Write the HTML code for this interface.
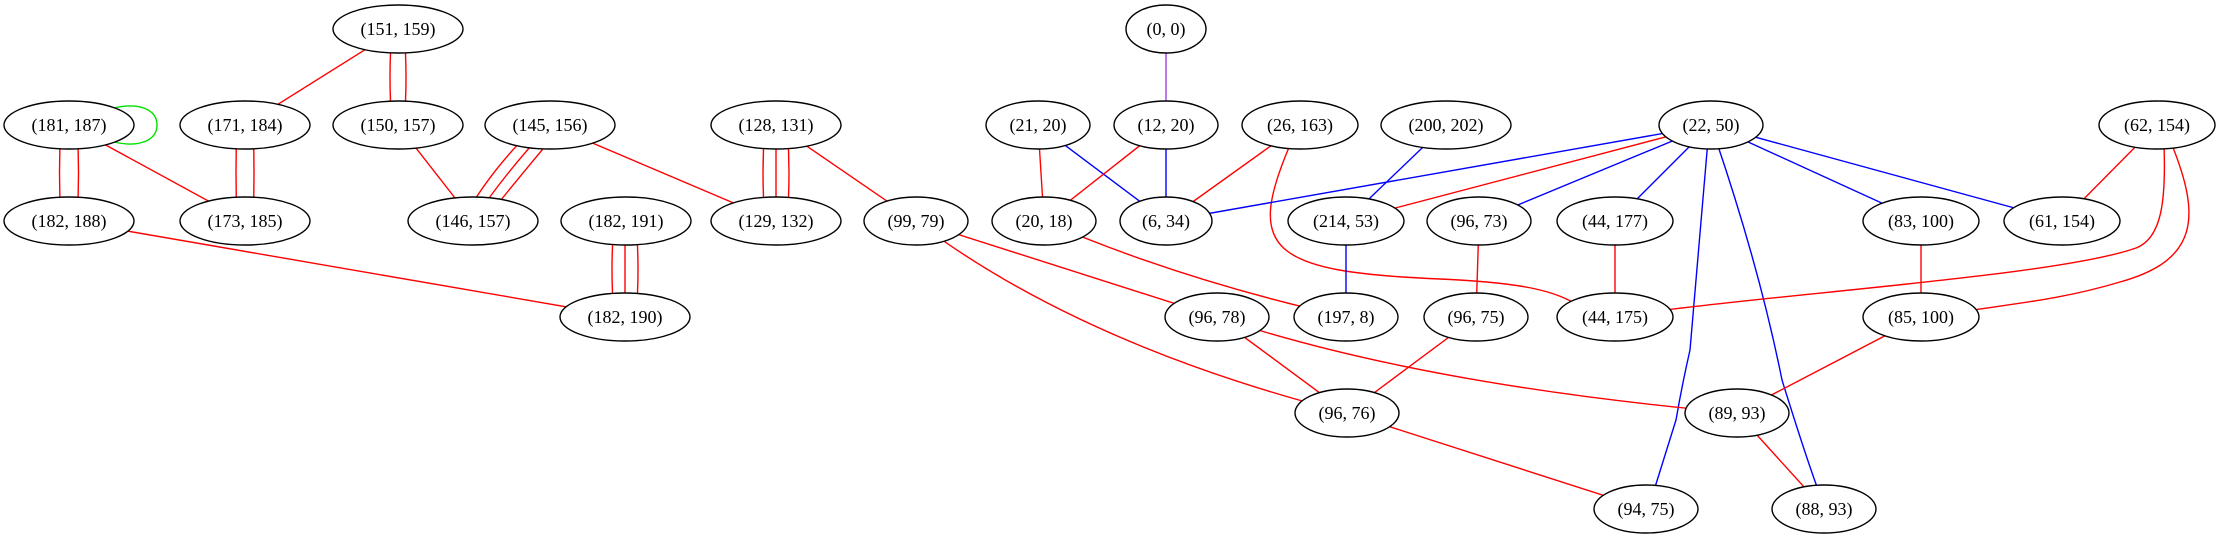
<!DOCTYPE html>
<html><head><meta charset="utf-8"><style>
html,body{margin:0;padding:0;background:#fff;}
svg{display:block;}
text{font-family:"Liberation Serif",serif;font-size:18px;text-anchor:middle;dominant-baseline:central;fill:#000;}
.e{fill:#fff;stroke:#000;stroke-width:1.4;}
path,line{fill:none;stroke-width:1.4;}
.r{stroke:#ff0000;}.b{stroke:#0000ff;}
</style></head><body>
<svg width="2221" height="539" viewBox="0 0 2221 539" xmlns="http://www.w3.org/2000/svg">
<!-- edges -->
<g>
<line class="r" x1="398" y1="29" x2="245" y2="125"/>
<path class="r" d="M392,29 Q388,77 392,125"/><path class="r" d="M404,29 Q408,77 404,125"/>
<path d="M114,108 C140,102 157,110 157,125 C157,140 140,148 114,142" stroke="#00e000"/>
<path class="r" d="M61,125 Q58,173 61,221"/><path class="r" d="M77,125 Q80,173 77,221"/>
<line class="r" x1="69" y1="125" x2="245" y2="221"/>
<path class="r" d="M237,125 Q235,173 237,221"/><path class="r" d="M253,125 Q255,173 253,221"/>
<line class="r" x1="398" y1="125" x2="473" y2="221"/>
<path class="r" d="M537,125 Q490,170 462,221"/><path class="r" d="M550,125 Q505,173 473,221"/><path class="r" d="M563,125 Q520,176 484,221"/>
<line class="r" x1="550" y1="125" x2="776" y2="221"/>
<line class="r" x1="69" y1="221" x2="625" y2="317"/>
<path class="r" d="M614,221 Q610,269 614,317"/><line class="r" x1="625" y1="221" x2="625" y2="317"/><path class="r" d="M636,221 Q640,269 636,317"/>
<path class="r" d="M765,125 Q761,173 765,221"/><line class="r" x1="776" y1="125" x2="776" y2="221"/><path class="r" d="M787,125 Q791,173 787,221"/>
<line class="r" x1="776" y1="125" x2="916" y2="221"/>
<line class="r" x1="916" y1="221" x2="1217" y2="317"/>
<path class="r" d="M916,221 Q1080,345 1347,413"/>
<line x1="1166" y1="29" x2="1166" y2="125" stroke="#a040e0"/>
<line class="r" x1="1038" y1="125" x2="1044" y2="221"/>
<line class="b" x1="1038" y1="125" x2="1166" y2="221"/>
<line class="r" x1="1166" y1="125" x2="1044" y2="221"/>
<line class="b" x1="1166" y1="125" x2="1166" y2="221"/>
<line class="r" x1="1300" y1="125" x2="1166" y2="221"/>
<path class="r" d="M1290,145 C1245,250 1270,272 1440,279 C1530,283 1555,292 1578,305"/>
<line class="b" x1="1446" y1="125" x2="1346" y2="221"/>
<line class="b" x1="1711" y1="125" x2="1166" y2="221"/>
<line class="r" x1="1711" y1="125" x2="1346" y2="221"/>
<line class="b" x1="1711" y1="125" x2="1479" y2="221"/>
<line class="b" x1="1711" y1="125" x2="1615" y2="221"/>
<path class="b" d="M1708,140 L1690,350 Q1682,385 1676,420 L1651,500"/>
<path class="b" d="M1716,140 Q1760,270 1782,380 Q1810,470 1822,500"/>
<line class="b" x1="1711" y1="125" x2="1921" y2="221"/>
<line class="b" x1="1711" y1="125" x2="2062" y2="221"/>
<line class="r" x1="2157" y1="125" x2="2062" y2="221"/>
<path class="r" d="M2164,145 C2166,200 2162,238 2136,248 C2060,275 1800,292 1650,312"/>
<path class="r" d="M2172,145 C2200,215 2200,260 2120,282 C2060,300 2010,304 1960,312"/>
<path class="r" d="M1044,221 Q1180,280 1346,317"/>
<line class="b" x1="1346" y1="221" x2="1346" y2="317"/>
<line class="r" x1="1479" y1="221" x2="1476" y2="317"/>
<line class="r" x1="1615" y1="221" x2="1615" y2="317"/>
<line class="r" x1="1921" y1="221" x2="1921" y2="317"/>
<line class="r" x1="1217" y1="317" x2="1347" y2="413"/>
<path class="r" d="M1217,317 Q1420,385 1737,413"/>
<line class="r" x1="1476" y1="317" x2="1347" y2="413"/>
<line class="r" x1="1921" y1="317" x2="1737" y2="413"/>
<line class="r" x1="1347" y1="413" x2="1646" y2="509"/>
<line class="r" x1="1737" y1="413" x2="1824" y2="509"/>
</g>
<!-- nodes -->
<g>
<ellipse class="e" cx="398" cy="29" rx="65" ry="24"/><text x="398" y="29">(151, 159)</text>
<ellipse class="e" cx="1166" cy="29" rx="40" ry="24"/><text x="1166" y="29">(0, 0)</text>
<ellipse class="e" cx="69" cy="125" rx="65" ry="24"/><text x="69" y="125">(181, 187)</text>
<ellipse class="e" cx="245" cy="125" rx="65" ry="24"/><text x="245" y="125">(171, 184)</text>
<ellipse class="e" cx="398" cy="125" rx="65" ry="24"/><text x="398" y="125">(150, 157)</text>
<ellipse class="e" cx="550" cy="125" rx="65" ry="24"/><text x="550" y="125">(145, 156)</text>
<ellipse class="e" cx="776" cy="125" rx="65" ry="24"/><text x="776" y="125">(128, 131)</text>
<ellipse class="e" cx="1038" cy="125" rx="52" ry="24"/><text x="1038" y="125">(21, 20)</text>
<ellipse class="e" cx="1166" cy="125" rx="52" ry="24"/><text x="1166" y="125">(12, 20)</text>
<ellipse class="e" cx="1300" cy="125" rx="58" ry="24"/><text x="1300" y="125">(26, 163)</text>
<ellipse class="e" cx="1446" cy="125" rx="65" ry="24"/><text x="1446" y="125">(200, 202)</text>
<ellipse class="e" cx="1711" cy="125" rx="52" ry="24"/><text x="1711" y="125">(22, 50)</text>
<ellipse class="e" cx="2157" cy="125" rx="58" ry="24"/><text x="2157" y="125">(62, 154)</text>
<ellipse class="e" cx="69" cy="221" rx="65" ry="24"/><text x="69" y="221">(182, 188)</text>
<ellipse class="e" cx="245" cy="221" rx="65" ry="24"/><text x="245" y="221">(173, 185)</text>
<ellipse class="e" cx="473" cy="221" rx="65" ry="24"/><text x="473" y="221">(146, 157)</text>
<ellipse class="e" cx="626" cy="221" rx="65" ry="24"/><text x="626" y="221">(182, 191)</text>
<ellipse class="e" cx="776" cy="221" rx="65" ry="24"/><text x="776" y="221">(129, 132)</text>
<ellipse class="e" cx="916" cy="221" rx="52" ry="24"/><text x="916" y="221">(99, 79)</text>
<ellipse class="e" cx="1044" cy="221" rx="52" ry="24"/><text x="1044" y="221">(20, 18)</text>
<ellipse class="e" cx="1166" cy="221" rx="46" ry="24"/><text x="1166" y="221">(6, 34)</text>
<ellipse class="e" cx="1346" cy="221" rx="58" ry="24"/><text x="1346" y="221">(214, 53)</text>
<ellipse class="e" cx="1479" cy="221" rx="52" ry="24"/><text x="1479" y="221">(96, 73)</text>
<ellipse class="e" cx="1615" cy="221" rx="58" ry="24"/><text x="1615" y="221">(44, 177)</text>
<ellipse class="e" cx="1921" cy="221" rx="58" ry="24"/><text x="1921" y="221">(83, 100)</text>
<ellipse class="e" cx="2062" cy="221" rx="58" ry="24"/><text x="2062" y="221">(61, 154)</text>
<ellipse class="e" cx="625" cy="317" rx="65" ry="24"/><text x="625" y="317">(182, 190)</text>
<ellipse class="e" cx="1217" cy="317" rx="52" ry="24"/><text x="1217" y="317">(96, 78)</text>
<ellipse class="e" cx="1346" cy="317" rx="52" ry="24"/><text x="1346" y="317">(197, 8)</text>
<ellipse class="e" cx="1476" cy="317" rx="52" ry="24"/><text x="1476" y="317">(96, 75)</text>
<ellipse class="e" cx="1615" cy="317" rx="58" ry="24"/><text x="1615" y="317">(44, 175)</text>
<ellipse class="e" cx="1921" cy="317" rx="58" ry="24"/><text x="1921" y="317">(85, 100)</text>
<ellipse class="e" cx="1347" cy="413" rx="52" ry="24"/><text x="1347" y="413">(96, 76)</text>
<ellipse class="e" cx="1737" cy="413" rx="52" ry="24"/><text x="1737" y="413">(89, 93)</text>
<ellipse class="e" cx="1646" cy="509" rx="52" ry="24"/><text x="1646" y="509">(94, 75)</text>
<ellipse class="e" cx="1824" cy="509" rx="52" ry="24"/><text x="1824" y="509">(88, 93)</text>
</g>
</svg>
</body></html>
